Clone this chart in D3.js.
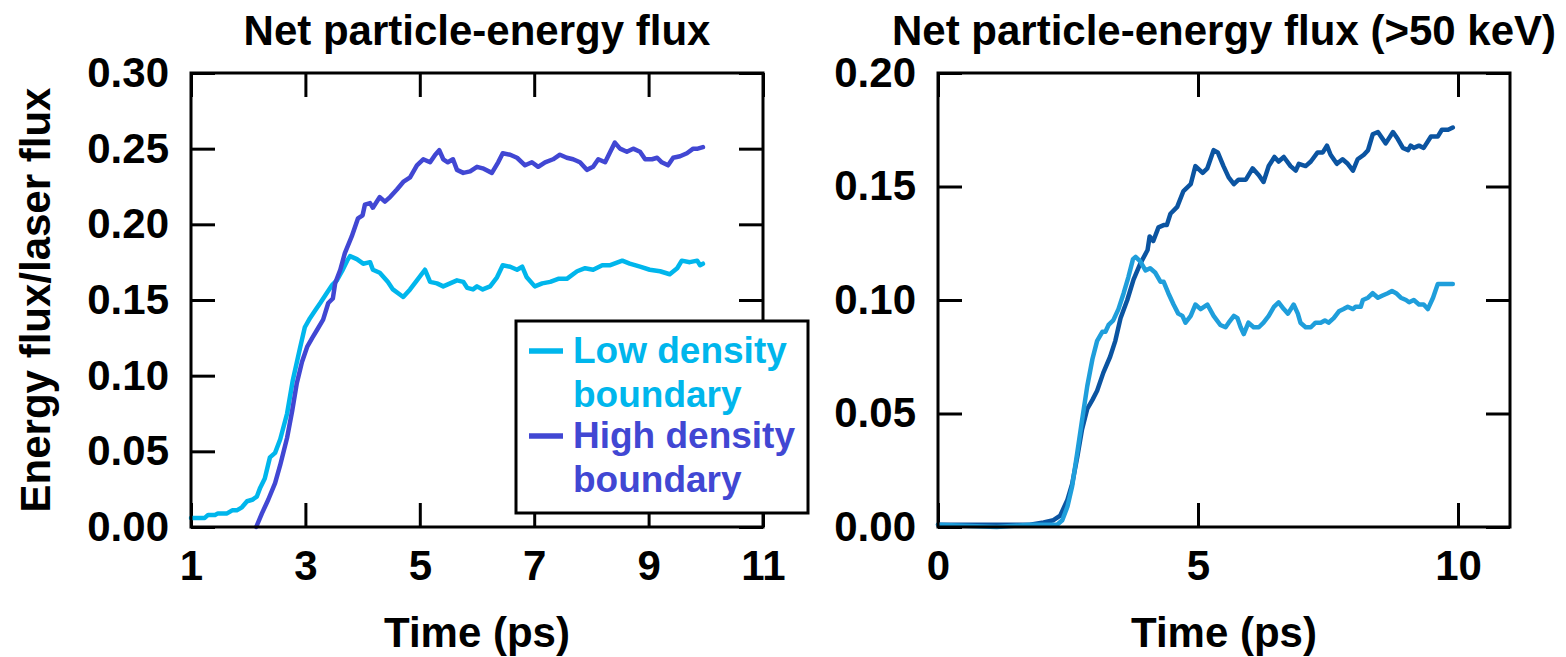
<!DOCTYPE html>
<html>
<head>
<meta charset="utf-8">
<script src="https://cdn.jsdelivr.net/npm/d3@7"></script>
<style>
  body { margin: 0; background: #fff; }
  svg text { font-family: "Liberation Sans", Arial, Helvetica, sans-serif; font-weight: bold; }
</style>
</head>
<body>
<svg id="chart" width="1566" height="657"></svg>
<script>
// left panel: net particle-energy flux, [time (ps), flux ratio]
const lowDensity = [
  [1.00,0.006],[1.24,0.006],[1.30,0.008],[1.42,0.008],[1.47,0.009],[1.63,0.009],[1.72,0.011],[1.80,0.011],
  [1.89,0.013],[1.98,0.017],[2.07,0.018],[2.15,0.020],[2.21,0.026],[2.29,0.032],[2.38,0.046],[2.47,0.049],
  [2.56,0.058],[2.68,0.075],[2.78,0.097],[2.91,0.119],[2.99,0.132],[3.08,0.138],[3.17,0.143],[3.26,0.148],
  [3.38,0.155],[3.47,0.160],[3.55,0.163],[3.64,0.169],[3.73,0.176],[3.78,0.179],[3.90,0.177],[4.01,0.174],
  [4.13,0.175],[4.18,0.170],[4.30,0.168],[4.44,0.162],[4.53,0.157],[4.71,0.152],[4.83,0.157],[4.95,0.163],
  [5.09,0.170],[5.18,0.162],[5.30,0.161],[5.41,0.159],[5.53,0.161],[5.65,0.163],[5.76,0.162],[5.83,0.158],
  [5.93,0.157],[6.00,0.159],[6.10,0.157],[6.23,0.159],[6.35,0.165],[6.45,0.173],[6.58,0.172],[6.70,0.170],
  [6.79,0.172],[6.87,0.165],[7.01,0.159],[7.14,0.161],[7.28,0.162],[7.42,0.164],[7.57,0.164],[7.75,0.169],
  [7.89,0.171],[8.03,0.170],[8.19,0.173],[8.33,0.173],[8.54,0.176],[8.67,0.174],[8.85,0.172],[9.02,0.170],
  [9.20,0.169],[9.37,0.167],[9.50,0.171],[9.58,0.176],[9.72,0.175],[9.85,0.176],[9.90,0.173],[9.95,0.174]
];
const highDensity = [
  [2.14,0.000],[2.24,0.009],[2.35,0.018],[2.47,0.029],[2.56,0.041],[2.68,0.059],[2.77,0.077],[2.85,0.095],
  [2.94,0.109],[3.03,0.119],[3.12,0.125],[3.20,0.130],[3.31,0.137],[3.40,0.148],[3.48,0.151],[3.52,0.161],
  [3.61,0.170],[3.69,0.181],[3.81,0.192],[3.92,0.204],[4.00,0.206],[4.04,0.213],[4.13,0.214],[4.18,0.211],
  [4.30,0.218],[4.39,0.215],[4.48,0.218],[4.60,0.223],[4.71,0.228],[4.83,0.231],[4.95,0.239],[5.06,0.243],
  [5.18,0.241],[5.27,0.246],[5.34,0.249],[5.41,0.243],[5.49,0.241],[5.58,0.243],[5.65,0.236],[5.76,0.234],
  [5.88,0.235],[6.00,0.238],[6.10,0.237],[6.26,0.234],[6.37,0.241],[6.45,0.247],[6.58,0.246],[6.70,0.244],
  [6.84,0.239],[6.96,0.241],[7.07,0.238],[7.19,0.241],[7.33,0.243],[7.45,0.246],[7.57,0.244],[7.68,0.243],
  [7.80,0.241],[7.92,0.236],[8.03,0.238],[8.12,0.243],[8.24,0.241],[8.33,0.248],[8.41,0.254],[8.50,0.250],
  [8.62,0.248],[8.73,0.250],[8.85,0.248],[8.94,0.243],[9.06,0.243],[9.15,0.244],[9.23,0.241],[9.34,0.239],
  [9.43,0.244],[9.55,0.245],[9.67,0.247],[9.78,0.250],[9.86,0.250],[9.95,0.251]
];

// right panel: > 50 keV
const lowDensityHot = [
  [0.00,0.001],[0.50,0.0005],[1.13,0.000],[1.77,0.001],[2.29,0.001],[2.39,0.003],[2.49,0.009],[2.58,0.018],
  [2.68,0.033],[2.77,0.047],[2.87,0.062],[2.97,0.074],[3.06,0.082],[3.16,0.086],[3.22,0.086],[3.28,0.089],
  [3.37,0.091],[3.47,0.096],[3.57,0.103],[3.66,0.110],[3.75,0.118],[3.80,0.119],[3.89,0.117],[3.99,0.113],
  [4.08,0.114],[4.18,0.112],[4.28,0.108],[4.34,0.108],[4.43,0.103],[4.53,0.098],[4.62,0.094],[4.70,0.093],
  [4.76,0.090],[4.86,0.093],[4.95,0.098],[5.05,0.096],[5.18,0.098],[5.30,0.093],[5.43,0.089],[5.53,0.088],
  [5.59,0.090],[5.69,0.093],[5.76,0.092],[5.82,0.088],[5.88,0.085],[5.97,0.090],[6.07,0.088],[6.17,0.088],
  [6.26,0.090],[6.36,0.093],[6.46,0.097],[6.55,0.099],[6.65,0.096],[6.73,0.094],[6.84,0.098],[6.92,0.094],
  [6.97,0.090],[7.07,0.088],[7.17,0.088],[7.26,0.090],[7.36,0.090],[7.44,0.091],[7.51,0.090],[7.61,0.092],
  [7.71,0.095],[7.80,0.096],[7.88,0.097],[7.98,0.096],[8.03,0.097],[8.13,0.097],[8.17,0.100],[8.27,0.101],
  [8.36,0.103],[8.46,0.101],[8.55,0.102],[8.65,0.103],[8.73,0.104],[8.81,0.103],[8.90,0.101],[9.00,0.100],
  [9.06,0.099],[9.15,0.100],[9.25,0.098],[9.34,0.098],[9.42,0.096],[9.52,0.101],[9.61,0.107],[9.73,0.107],
  [9.90,0.107]
];
const highDensityHot = [
  [0.00,0.001],[1.13,0.001],[1.77,0.001],[2.03,0.002],[2.22,0.003],[2.35,0.005],[2.49,0.012],[2.58,0.019],
  [2.68,0.031],[2.77,0.043],[2.87,0.052],[2.97,0.056],[3.06,0.060],[3.18,0.068],[3.31,0.075],[3.41,0.082],
  [3.51,0.092],[3.64,0.100],[3.76,0.109],[3.89,0.116],[4.03,0.122],[4.07,0.128],[4.14,0.126],[4.24,0.132],
  [4.34,0.133],[4.40,0.133],[4.47,0.138],[4.60,0.141],[4.72,0.148],[4.86,0.151],[4.95,0.159],[5.09,0.156],
  [5.18,0.158],[5.30,0.166],[5.38,0.165],[5.49,0.159],[5.59,0.154],[5.69,0.151],[5.78,0.153],[5.92,0.153],
  [6.05,0.158],[6.17,0.155],[6.26,0.152],[6.36,0.159],[6.47,0.163],[6.55,0.161],[6.65,0.163],[6.78,0.159],
  [6.88,0.157],[6.94,0.160],[7.07,0.159],[7.17,0.161],[7.30,0.165],[7.40,0.165],[7.48,0.168],[7.55,0.164],
  [7.67,0.160],[7.78,0.162],[7.88,0.160],[7.98,0.157],[8.07,0.162],[8.19,0.164],[8.27,0.166],[8.36,0.173],
  [8.46,0.174],[8.61,0.169],[8.75,0.174],[8.84,0.171],[8.94,0.167],[9.04,0.166],[9.09,0.168],[9.15,0.167],
  [9.25,0.168],[9.34,0.167],[9.48,0.172],[9.61,0.172],[9.69,0.175],[9.81,0.175],[9.90,0.176]
];

// ticks
const leftXTicks = [1, 3, 5, 7, 9, 11];
const leftYTicks = [0, 0.05, 0.10, 0.15, 0.20, 0.25, 0.30];
const rightXTicks = [0, 5, 10];
const rightYTicks = [0, 0.05, 0.10, 0.15, 0.20];

const legendLabels = [["Low density", "boundary"], ["High density", "boundary"]];

var svg = d3.select('#chart');
var fmt = d3.format('.2f');

function drawPanel(opt) {
  var w = opt.x1 - opt.x0, h = 527 - 73;
  var g = svg.append('g').attr('transform', `translate(${opt.x0}, 73)`);

  var x = d3.scaleLinear().domain(opt.xDomain).range([0, w]);
  var y = d3.scaleLinear().domain(opt.yDomain).range([h, 0]);

  // inward ticks on all four sides
  var bottom = g.append('g').attr('transform', `translate(0, ${h})`)
    .call(d3.axisBottom(x).tickValues(opt.xTicks).tickSizeInner(-24).tickSizeOuter(0).tickPadding(23));
  var left = g.append('g')
    .call(d3.axisLeft(y).tickValues(opt.yTicks).tickFormat(fmt).tickSizeInner(-24).tickSizeOuter(0).tickPadding(22));
  var top = g.append('g')
    .call(d3.axisTop(x).tickValues(opt.xTicks).tickFormat('').tickSizeInner(-24).tickSizeOuter(0));
  var right = g.append('g').attr('transform', `translate(${w}, 0)`)
    .call(d3.axisRight(y).tickValues(opt.yTicks).tickFormat('').tickSizeInner(-24).tickSizeOuter(0));

  [bottom, left, top, right].forEach(function(a) {
    a.select('.domain').remove();
    a.selectAll('.tick line').attr('stroke', '#000').attr('stroke-width', 3);
    a.selectAll('text').attr('font-size', '42px').attr('fill', '#000');
  });

  var line = d3.line().x(d => x(d[0])).y(d => y(d[1]));
  opt.series.forEach(function(s) {
    g.append('path')
      .datum(s.data)
      .attr('fill', 'none')
      .attr('stroke', s.color)
      .attr('stroke-width', 4.5)
      .attr('stroke-linejoin', 'round')
      .attr('stroke-linecap', 'round')
      .attr('d', line);
  });

  g.append('rect')
    .attr('width', w).attr('height', h)
    .attr('fill', 'none').attr('stroke', '#000').attr('stroke-width', 3);

  g.append('text').text(opt.title)
    .attr('x', w / 2).attr('y', -28)
    .attr('text-anchor', 'middle')
    .attr('font-size', '42px');

  g.append('text').text('Time (ps)')
    .attr('x', w / 2).attr('y', h + 120)
    .attr('text-anchor', 'middle')
    .attr('font-size', '42px');

  return g;
}

drawPanel({
  x0: 191, x1: 763,
  xDomain: [1, 11], yDomain: [0, 0.30],
  xTicks: leftXTicks, yTicks: leftYTicks,
  title: 'Net particle-energy flux',
  series: [
    { data: lowDensity, color: '#00b6ec' },
    { data: highDensity, color: '#4147d3' }
  ]
});

drawPanel({
  x0: 938, x1: 1510,
  xDomain: [0, 11], yDomain: [0, 0.20],
  xTicks: rightXTicks, yTicks: rightYTicks,
  title: 'Net particle-energy flux (>50 keV)',
  series: [
    { data: highDensityHot, color: '#0b54a1' },
    { data: lowDensityHot, color: '#1f9edb' }
  ]
});

// y axis title
svg.append('text').text('Energy flux/laser flux')
  .attr('transform', 'translate(50, 300) rotate(-90)')
  .attr('text-anchor', 'middle')
  .attr('font-size', '42px');

// legend
var legend = svg.append('g');
legend.append('rect')
  .attr('x', 516).attr('y', 321).attr('width', 292).attr('height', 192)
  .attr('fill', '#fff').attr('stroke', '#000').attr('stroke-width', 3);

var legendColors = ['#00b6ec', '#4147d3'];
legendLabels.forEach(function(lines, i) {
  var y0 = 363 + i * 85;
  legend.append('line')
    .attr('x1', 529).attr('x2', 563)
    .attr('y1', y0 - 12).attr('y2', y0 - 12)
    .attr('stroke', legendColors[i]).attr('stroke-width', 5.5);
  lines.forEach(function(t, j) {
    legend.append('text').text(t)
      .attr('x', 573).attr('y', y0 + j * 44)
      .attr('fill', legendColors[i])
      .attr('font-size', '37px');
  });
});
</script>
</body>
</html>
